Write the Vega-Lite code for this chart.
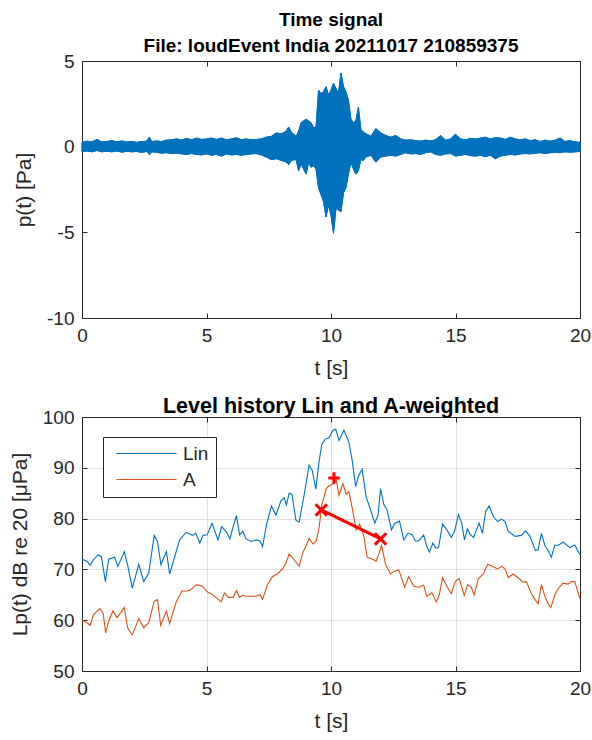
{
  "$schema": "https://vega.github.io/schema/vega-lite/v6.json",
  "padding": {"left": 8, "top": 10, "right": 6, "bottom": 5},
  "spacing": 16,
  "resolve": {"legend": {"color": "independent", "shape": "independent"}},
  "config": {
    "font": "Liberation Sans",
    "view": {"stroke": "#262626", "strokeWidth": 1},
    "axis": {
      "labelFontSize": 19, "labelColor": "#262626", "titleFontSize": 21, "titleFontWeight": "normal",
      "titleColor": "#262626", "domainColor": "#262626", "tickColor": "#262626", "tickSize": -5,
      "labelPadding": 13, "titlePadding": 12, "gridColor": "#dfdfdf", "labelFlush": false
    },
    "title": {"fontWeight": "bold", "color": "#000000", "font": "Liberation Sans"}
  },
  "datasets": {
    "wave": [
      {"t": 0.0, "hi": 0.25, "lo": -0.28}, {"t": 0.2, "hi": 0.32, "lo": -0.25}, {"t": 0.4, "hi": 0.28, "lo": -0.3},
      {"t": 0.6, "hi": 0.42, "lo": -0.22}, {"t": 0.8, "hi": 0.27, "lo": -0.3}, {"t": 1.0, "hi": 0.3, "lo": -0.26},
      {"t": 1.2, "hi": 0.35, "lo": -0.3}, {"t": 1.4, "hi": 0.28, "lo": -0.25}, {"t": 1.6, "hi": 0.33, "lo": -0.32},
      {"t": 1.8, "hi": 0.27, "lo": -0.27}, {"t": 2.0, "hi": 0.3, "lo": -0.3}, {"t": 2.2, "hi": 0.25, "lo": -0.28},
      {"t": 2.4, "hi": 0.3, "lo": -0.33}, {"t": 2.6, "hi": 0.32, "lo": -0.28}, {"t": 2.7, "hi": 0.55, "lo": -0.45},
      {"t": 2.8, "hi": 0.3, "lo": -0.3}, {"t": 3.0, "hi": 0.33, "lo": -0.32}, {"t": 3.2, "hi": 0.3, "lo": -0.38},
      {"t": 3.4, "hi": 0.38, "lo": -0.35}, {"t": 3.6, "hi": 0.4, "lo": -0.4}, {"t": 3.8, "hi": 0.45, "lo": -0.38},
      {"t": 4.0, "hi": 0.38, "lo": -0.42}, {"t": 4.2, "hi": 0.48, "lo": -0.45}, {"t": 4.4, "hi": 0.4, "lo": -0.4},
      {"t": 4.6, "hi": 0.5, "lo": -0.45}, {"t": 4.8, "hi": 0.42, "lo": -0.48}, {"t": 5.0, "hi": 0.45, "lo": -0.42},
      {"t": 5.2, "hi": 0.5, "lo": -0.5}, {"t": 5.4, "hi": 0.42, "lo": -0.45}, {"t": 5.6, "hi": 0.5, "lo": -0.55},
      {"t": 5.8, "hi": 0.4, "lo": -0.42}, {"t": 6.0, "hi": 0.45, "lo": -0.48}, {"t": 6.2, "hi": 0.52, "lo": -0.45},
      {"t": 6.4, "hi": 0.4, "lo": -0.5}, {"t": 6.6, "hi": 0.45, "lo": -0.45}, {"t": 6.8, "hi": 0.4, "lo": -0.42},
      {"t": 7.0, "hi": 0.42, "lo": -0.4}, {"t": 7.2, "hi": 0.45, "lo": -0.48}, {"t": 7.4, "hi": 0.55, "lo": -0.6},
      {"t": 7.6, "hi": 0.6, "lo": -0.75}, {"t": 7.8, "hi": 0.8, "lo": -0.7}, {"t": 8.0, "hi": 0.75, "lo": -0.8},
      {"t": 8.2, "hi": 0.9, "lo": -0.9}, {"t": 8.3, "hi": 1.15, "lo": -1.05}, {"t": 8.4, "hi": 0.85, "lo": -0.8},
      {"t": 8.6, "hi": 0.6, "lo": -0.75}, {"t": 8.7, "hi": 0.9, "lo": -1.4}, {"t": 8.8, "hi": 1.4, "lo": -1.0},
      {"t": 9.0, "hi": 1.6, "lo": -1.6}, {"t": 9.1, "hi": 1.5, "lo": -0.9}, {"t": 9.2, "hi": 1.4, "lo": -1.2},
      {"t": 9.3, "hi": 1.1, "lo": -1.1}, {"t": 9.4, "hi": 1.15, "lo": -1.3}, {"t": 9.5, "hi": 3.3, "lo": -2.4},
      {"t": 9.6, "hi": 3.1, "lo": -2.8}, {"t": 9.7, "hi": 3.2, "lo": -3.2}, {"t": 9.8, "hi": 3.5, "lo": -4.1},
      {"t": 9.9, "hi": 3.0, "lo": -3.4}, {"t": 10.0, "hi": 3.3, "lo": -4.0}, {"t": 10.1, "hi": 3.7, "lo": -5.05},
      {"t": 10.2, "hi": 3.4, "lo": -3.6}, {"t": 10.3, "hi": 3.1, "lo": -3.7}, {"t": 10.4, "hi": 4.3, "lo": -3.8},
      {"t": 10.5, "hi": 3.5, "lo": -2.7}, {"t": 10.6, "hi": 3.2, "lo": -2.4}, {"t": 10.7, "hi": 2.7, "lo": -1.6},
      {"t": 10.8, "hi": 1.6, "lo": -0.9}, {"t": 10.9, "hi": 1.4, "lo": -1.3}, {"t": 11.0, "hi": 1.5, "lo": -1.6},
      {"t": 11.1, "hi": 2.3, "lo": -1.4}, {"t": 11.2, "hi": 1.0, "lo": -0.75}, {"t": 11.3, "hi": 0.85, "lo": -0.8},
      {"t": 11.4, "hi": 0.75, "lo": -0.6}, {"t": 11.6, "hi": 0.6, "lo": -0.5}, {"t": 11.8, "hi": 1.05, "lo": -0.9},
      {"t": 12.0, "hi": 0.8, "lo": -0.6}, {"t": 12.2, "hi": 0.65, "lo": -0.55}, {"t": 12.4, "hi": 0.55, "lo": -0.5},
      {"t": 12.6, "hi": 0.65, "lo": -0.55}, {"t": 12.8, "hi": 0.45, "lo": -0.45}, {"t": 13.0, "hi": 0.38, "lo": -0.35},
      {"t": 13.2, "hi": 0.4, "lo": -0.42}, {"t": 13.4, "hi": 0.35, "lo": -0.4}, {"t": 13.6, "hi": 0.32, "lo": -0.45},
      {"t": 13.8, "hi": 0.38, "lo": -0.35}, {"t": 14.0, "hi": 0.33, "lo": -0.3}, {"t": 14.2, "hi": 0.4, "lo": -0.45},
      {"t": 14.4, "hi": 0.65, "lo": -0.5}, {"t": 14.6, "hi": 0.38, "lo": -0.42}, {"t": 14.8, "hi": 0.45, "lo": -0.4},
      {"t": 15.0, "hi": 0.72, "lo": -0.55}, {"t": 15.2, "hi": 0.45, "lo": -0.5}, {"t": 15.4, "hi": 0.4, "lo": -0.45},
      {"t": 15.6, "hi": 0.48, "lo": -0.52}, {"t": 15.8, "hi": 0.45, "lo": -0.55}, {"t": 16.0, "hi": 0.5, "lo": -0.5},
      {"t": 16.2, "hi": 0.55, "lo": -0.58}, {"t": 16.4, "hi": 0.45, "lo": -0.5}, {"t": 16.6, "hi": 0.52, "lo": -0.7},
      {"t": 16.8, "hi": 0.5, "lo": -0.55}, {"t": 17.0, "hi": 0.42, "lo": -0.5}, {"t": 17.2, "hi": 0.55, "lo": -0.45},
      {"t": 17.4, "hi": 0.45, "lo": -0.48}, {"t": 17.6, "hi": 0.4, "lo": -0.42}, {"t": 17.8, "hi": 0.45, "lo": -0.4},
      {"t": 18.0, "hi": 0.35, "lo": -0.42}, {"t": 18.2, "hi": 0.4, "lo": -0.38}, {"t": 18.4, "hi": 0.3, "lo": -0.35},
      {"t": 18.6, "hi": 0.38, "lo": -0.4}, {"t": 18.8, "hi": 0.32, "lo": -0.35}, {"t": 19.0, "hi": 0.38, "lo": -0.33},
      {"t": 19.2, "hi": 0.5, "lo": -0.35}, {"t": 19.4, "hi": 0.3, "lo": -0.3}, {"t": 19.6, "hi": 0.35, "lo": -0.32},
      {"t": 19.8, "hi": 0.28, "lo": -0.3}, {"t": 20.0, "hi": 0.25, "lo": -0.28}
    ],
    "lin": [
      {"t": 0, "L": 72.0}, {"t": 0.2, "L": 71.6}, {"t": 0.33, "L": 70.8}, {"t": 0.46, "L": 71.9}, {"t": 0.65, "L": 72.9},
      {"t": 0.78, "L": 72.5}, {"t": 0.94, "L": 67.6}, {"t": 1.07, "L": 72.0}, {"t": 1.31, "L": 72.4}, {"t": 1.44, "L": 70.6},
      {"t": 1.7, "L": 73.5}, {"t": 1.83, "L": 70.9}, {"t": 2.02, "L": 66.3}, {"t": 2.28, "L": 71.0}, {"t": 2.48, "L": 67.6},
      {"t": 2.68, "L": 69.3}, {"t": 2.9, "L": 76.7}, {"t": 3.03, "L": 75.5}, {"t": 3.17, "L": 70.9}, {"t": 3.39, "L": 73.5},
      {"t": 3.52, "L": 69.1}, {"t": 3.92, "L": 75.8}, {"t": 4.18, "L": 77.3}, {"t": 4.44, "L": 76.7}, {"t": 4.57, "L": 77.1},
      {"t": 4.73, "L": 75.2}, {"t": 4.86, "L": 76.7}, {"t": 5.03, "L": 76.8}, {"t": 5.22, "L": 79.1}, {"t": 5.46, "L": 75.8},
      {"t": 5.61, "L": 78.4}, {"t": 5.81, "L": 77.3}, {"t": 5.94, "L": 76.0}, {"t": 6.07, "L": 78.4}, {"t": 6.2, "L": 80.6},
      {"t": 6.33, "L": 76.8}, {"t": 6.46, "L": 77.5}, {"t": 6.59, "L": 76.0}, {"t": 6.79, "L": 75.5}, {"t": 6.99, "L": 75.8},
      {"t": 7.15, "L": 75.6}, {"t": 7.25, "L": 74.5}, {"t": 7.41, "L": 78.8}, {"t": 7.61, "L": 82.5}, {"t": 7.79, "L": 80.7},
      {"t": 7.99, "L": 83.5}, {"t": 8.12, "L": 84.1}, {"t": 8.21, "L": 82.7}, {"t": 8.32, "L": 85.0}, {"t": 8.43, "L": 84.8},
      {"t": 8.59, "L": 79.7}, {"t": 8.72, "L": 79.3}, {"t": 8.92, "L": 84.6}, {"t": 9.12, "L": 90.5}, {"t": 9.25, "L": 89.5},
      {"t": 9.39, "L": 85.8}, {"t": 9.52, "L": 91.2}, {"t": 9.63, "L": 94.6}, {"t": 9.76, "L": 95.6}, {"t": 9.92, "L": 95.9},
      {"t": 10.08, "L": 97.4}, {"t": 10.19, "L": 97.6}, {"t": 10.32, "L": 95.4}, {"t": 10.52, "L": 97.4}, {"t": 10.72, "L": 95.0},
      {"t": 10.85, "L": 91.5}, {"t": 10.99, "L": 86.3}, {"t": 11.12, "L": 88.6}, {"t": 11.25, "L": 89.7}, {"t": 11.41, "L": 84.3},
      {"t": 11.59, "L": 81.7}, {"t": 11.76, "L": 79.1}, {"t": 11.89, "L": 80.7}, {"t": 11.99, "L": 85.9}, {"t": 12.12, "L": 82.8},
      {"t": 12.25, "L": 81.7}, {"t": 12.43, "L": 77.8}, {"t": 12.56, "L": 79.1}, {"t": 12.75, "L": 79.5}, {"t": 12.92, "L": 75.8},
      {"t": 13.09, "L": 77.1}, {"t": 13.25, "L": 76.9}, {"t": 13.39, "L": 75.6}, {"t": 13.52, "L": 75.6}, {"t": 13.72, "L": 76.8},
      {"t": 13.85, "L": 74.5}, {"t": 13.95, "L": 73.4}, {"t": 14.09, "L": 75.2}, {"t": 14.21, "L": 74.2}, {"t": 14.32, "L": 74.3},
      {"t": 14.48, "L": 78.9}, {"t": 14.65, "L": 77.8}, {"t": 14.83, "L": 76.3}, {"t": 14.96, "L": 77.5}, {"t": 15.12, "L": 80.8},
      {"t": 15.25, "L": 79.1}, {"t": 15.36, "L": 75.8}, {"t": 15.48, "L": 78.0}, {"t": 15.59, "L": 76.9}, {"t": 15.72, "L": 76.3},
      {"t": 15.95, "L": 79.1}, {"t": 16.08, "L": 77.1}, {"t": 16.21, "L": 81.4}, {"t": 16.35, "L": 82.5}, {"t": 16.52, "L": 80.4},
      {"t": 16.69, "L": 79.4}, {"t": 16.85, "L": 79.9}, {"t": 16.99, "L": 79.4}, {"t": 17.12, "L": 77.5}, {"t": 17.39, "L": 76.5},
      {"t": 17.65, "L": 76.7}, {"t": 17.81, "L": 77.6}, {"t": 17.99, "L": 76.5}, {"t": 18.21, "L": 73.7}, {"t": 18.32, "L": 73.9},
      {"t": 18.45, "L": 77.1}, {"t": 18.59, "L": 74.7}, {"t": 18.72, "L": 73.7}, {"t": 18.85, "L": 72.4}, {"t": 18.99, "L": 74.8},
      {"t": 19.12, "L": 74.7}, {"t": 19.32, "L": 75.4}, {"t": 19.59, "L": 74.3}, {"t": 19.79, "L": 74.8}, {"t": 20.0, "L": 72.9}
    ],
    "aw": [
      {"t": 0, "L": 60.0}, {"t": 0.2, "L": 59.5}, {"t": 0.33, "L": 59.0}, {"t": 0.46, "L": 61.1}, {"t": 0.72, "L": 62.3},
      {"t": 0.85, "L": 61.4}, {"t": 0.95, "L": 57.5}, {"t": 1.07, "L": 59.8}, {"t": 1.24, "L": 61.8}, {"t": 1.41, "L": 60.5},
      {"t": 1.7, "L": 62.5}, {"t": 1.83, "L": 58.5}, {"t": 2.02, "L": 57.1}, {"t": 2.28, "L": 60.3}, {"t": 2.48, "L": 58.5},
      {"t": 2.68, "L": 59.5}, {"t": 2.9, "L": 63.7}, {"t": 3.03, "L": 64.1}, {"t": 3.16, "L": 59.0}, {"t": 3.39, "L": 61.8},
      {"t": 3.52, "L": 59.3}, {"t": 3.79, "L": 63.7}, {"t": 4.02, "L": 65.8}, {"t": 4.18, "L": 65.7}, {"t": 4.37, "L": 66.0},
      {"t": 4.6, "L": 67.0}, {"t": 4.83, "L": 66.7}, {"t": 5.03, "L": 65.6}, {"t": 5.22, "L": 65.1}, {"t": 5.42, "L": 64.3},
      {"t": 5.59, "L": 63.6}, {"t": 5.72, "L": 65.4}, {"t": 5.88, "L": 64.5}, {"t": 6.07, "L": 64.5}, {"t": 6.2, "L": 65.8},
      {"t": 6.33, "L": 64.5}, {"t": 6.46, "L": 64.9}, {"t": 6.59, "L": 64.7}, {"t": 6.99, "L": 64.7}, {"t": 7.15, "L": 65.0},
      {"t": 7.25, "L": 64.1}, {"t": 7.45, "L": 67.0}, {"t": 7.65, "L": 68.6}, {"t": 7.85, "L": 69.1}, {"t": 8.05, "L": 70.1},
      {"t": 8.19, "L": 71.2}, {"t": 8.32, "L": 73.0}, {"t": 8.52, "L": 71.9}, {"t": 8.72, "L": 70.6}, {"t": 8.88, "L": 73.5},
      {"t": 8.99, "L": 74.5}, {"t": 9.12, "L": 76.1}, {"t": 9.28, "L": 75.0}, {"t": 9.41, "L": 75.6}, {"t": 9.52, "L": 78.1},
      {"t": 9.63, "L": 82.7}, {"t": 9.72, "L": 84.3}, {"t": 9.81, "L": 85.9}, {"t": 9.92, "L": 86.5}, {"t": 10.05, "L": 86.7},
      {"t": 10.21, "L": 87.6}, {"t": 10.32, "L": 84.6}, {"t": 10.48, "L": 86.9}, {"t": 10.61, "L": 84.8}, {"t": 10.72, "L": 85.3},
      {"t": 10.88, "L": 81.4}, {"t": 11.01, "L": 77.8}, {"t": 11.15, "L": 78.9}, {"t": 11.32, "L": 76.5}, {"t": 11.45, "L": 72.4},
      {"t": 11.63, "L": 72.1}, {"t": 11.81, "L": 71.6}, {"t": 11.92, "L": 73.0}, {"t": 12.03, "L": 74.7}, {"t": 12.19, "L": 71.0},
      {"t": 12.39, "L": 69.1}, {"t": 12.52, "L": 69.6}, {"t": 12.72, "L": 69.9}, {"t": 12.96, "L": 66.5}, {"t": 13.12, "L": 68.6},
      {"t": 13.32, "L": 66.7}, {"t": 13.52, "L": 66.5}, {"t": 13.72, "L": 66.9}, {"t": 13.85, "L": 64.7}, {"t": 14.05, "L": 65.4},
      {"t": 14.23, "L": 63.6}, {"t": 14.35, "L": 65.0}, {"t": 14.48, "L": 68.4}, {"t": 14.65, "L": 66.7}, {"t": 14.83, "L": 65.2},
      {"t": 14.99, "L": 67.6}, {"t": 15.15, "L": 68.2}, {"t": 15.35, "L": 64.9}, {"t": 15.49, "L": 67.0}, {"t": 15.63, "L": 66.5},
      {"t": 15.75, "L": 65.0}, {"t": 15.92, "L": 68.2}, {"t": 16.12, "L": 69.1}, {"t": 16.29, "L": 71.0}, {"t": 16.48, "L": 70.6},
      {"t": 16.69, "L": 70.1}, {"t": 16.85, "L": 70.6}, {"t": 16.99, "L": 70.1}, {"t": 17.12, "L": 68.4}, {"t": 17.32, "L": 69.1},
      {"t": 17.52, "L": 68.3}, {"t": 17.72, "L": 67.5}, {"t": 17.85, "L": 67.6}, {"t": 18.03, "L": 65.4}, {"t": 18.19, "L": 64.1},
      {"t": 18.32, "L": 63.2}, {"t": 18.45, "L": 67.0}, {"t": 18.59, "L": 64.7}, {"t": 18.72, "L": 63.2}, {"t": 18.83, "L": 62.5},
      {"t": 18.99, "L": 65.0}, {"t": 19.12, "L": 66.2}, {"t": 19.32, "L": 67.3}, {"t": 19.52, "L": 67.1}, {"t": 19.65, "L": 67.6},
      {"t": 19.79, "L": 67.6}, {"t": 20.0, "L": 64.2}
    ],
    "span": [{"t": 9.61, "L": 81.7}, {"t": 11.99, "L": 76.0}],
    "marks": [{"t": 9.61, "L": 81.7, "kind": "x"}, {"t": 11.99, "L": 76.0, "kind": "x"}, {"t": 10.12, "L": 88.0, "kind": "+"}]
  },
  "vconcat": [
    {
      "width": 498, "height": 257,
      "title": {"text": ["Time signal", "File: loudEvent India 20211017 210859375"], "fontSize": 19, "lineHeight": 26, "offset": -4},
      "data": {"name": "wave"},
      "resolve": {"axis": {"x": "independent", "y": "independent"}},
      "layer": [
        {
          "mark": {"type": "area", "color": "#0072BD", "stroke": "#0072BD", "strokeWidth": 1, "opacity": 1},
          "encoding": {
            "x": {"field": "t", "type": "quantitative", "scale": {"domain": [0, 20], "nice": false},
                  "axis": {"values": [0, 5, 10, 15, 20], "title": "t [s]", "grid": false}},
            "y": {"field": "hi", "type": "quantitative", "scale": {"domain": [-10, 5], "nice": false, "zero": false},
                  "axis": {"values": [-10, -5, 0, 5], "title": "p(t) [Pa]", "grid": false,
                           "labelExpr": "replace(datum.label, '−', '-')"}},
            "y2": {"field": "lo"}
          }
        },
        {
          "mark": {"type": "area", "color": "#0072BD", "stroke": "#0072BD", "strokeWidth": 1, "opacity": 1},
          "encoding": {
            "x": {"field": "t", "type": "quantitative", "scale": {"domain": [0, 20], "nice": false},
                  "axis": {"orient": "top", "values": [0, 5, 10, 15, 20], "title": null, "labels": false, "grid": false}},
            "y": {"field": "hi", "type": "quantitative", "scale": {"domain": [-10, 5], "nice": false, "zero": false},
                  "axis": {"orient": "right", "values": [-10, -5, 0, 5], "title": null, "labels": false, "grid": false}},
            "y2": {"field": "lo"}
          }
        }
      ]
    },
    {
      "width": 498, "height": 254,
      "title": {"text": "Level history Lin and A-weighted", "fontSize": 21.5, "offset": -9},
      "resolve": {"axis": {"x": "independent", "y": "independent"}},
      "layer": [
        {
          "encoding": {
            "x": {"field": "t", "type": "quantitative", "scale": {"domain": [0, 20], "nice": false},
                  "axis": {"values": [0, 5, 10, 15, 20], "title": "t [s]", "grid": true}},
            "y": {"field": "L", "type": "quantitative", "scale": {"domain": [50, 100], "nice": false, "zero": false},
                  "axis": {"values": [50, 60, 70, 80, 90, 100], "title": "Lp(t) dB re 20 [μPa]", "grid": true}}
          },
          "layer": [
            {
              "data": {"name": "lin"},
              "mark": {"type": "line", "strokeWidth": 1.1},
              "encoding": {
                "color": {"datum": "Lin", "type": "nominal",
                  "scale": {"domain": ["Lin", "A"], "range": ["#0072BD", "#D95319"]},
                  "legend": {"title": null, "orient": "none", "legendX": 21, "legendY": 20,
                    "symbolType": "M-5,0L5,0", "symbolSize": 144, "symbolStrokeWidth": 1.2, "symbolOffset": 27,
                    "labelFontSize": 19, "labelColor": "#262626", "labelOffset": 27,
                    "strokeColor": "#262626", "fillColor": "#ffffff", "padding": 7, "rowPadding": 6}}
              }
            },
            {
              "data": {"name": "aw"},
              "mark": {"type": "line", "strokeWidth": 1.1},
              "encoding": {"color": {"datum": "A", "type": "nominal"}}
            },
            {
              "data": {"name": "marks"},
              "mark": {"type": "point", "filled": false, "color": "#ff0000", "strokeWidth": 3, "size": 130, "opacity": 1},
              "encoding": {
                "shape": {"field": "kind", "type": "nominal",
                  "scale": {"domain": ["x", "+"], "range": ["M-1,-1L1,1M-1,1L1,-1", "M-1,0L1,0M0,-1L0,1"]},
                  "legend": null}
              }
            }
          ]
        },
        {
          "data": {"name": "span"},
          "mark": {"type": "line", "color": "#ff0000", "strokeWidth": 3},
          "encoding": {
            "x": {"field": "t", "type": "quantitative", "scale": {"domain": [0, 20], "nice": false},
                  "axis": {"orient": "top", "values": [0, 5, 10, 15, 20], "title": null, "labels": false, "grid": false}},
            "y": {"field": "L", "type": "quantitative", "scale": {"domain": [50, 100], "nice": false, "zero": false},
                  "axis": {"orient": "right", "values": [50, 60, 70, 80, 90, 100], "title": null, "labels": false, "grid": false}}
          }
        }
      ]
    }
  ]
}
